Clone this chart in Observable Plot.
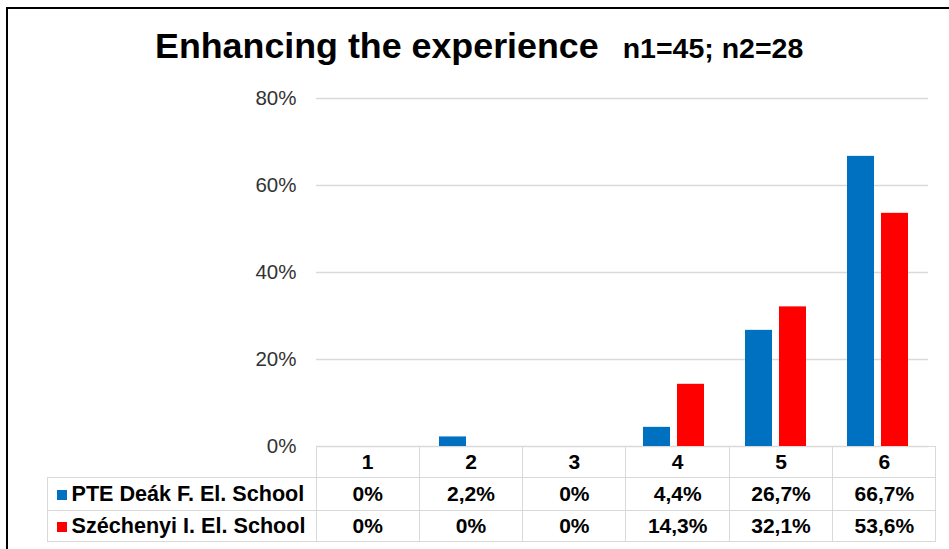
<!DOCTYPE html>
<html>
<head>
<meta charset="utf-8">
<script src="https://cdn.jsdelivr.net/npm/d3@7"></script>
<script src="https://cdn.jsdelivr.net/npm/@observablehq/plot@0.6"></script>
<style>
  html, body { margin: 0; padding: 0; background: #fff; overflow: hidden; }
  body { width: 949px; height: 549px; position: relative; font-family: "Liberation Sans", Arial, sans-serif; }
  #frame { position: absolute; left: 6px; top: 7px; width: 960px; height: 560px; border: 2px solid #000; box-sizing: border-box; }
  #title { position: absolute; left: 155px; top: 24px; white-space: nowrap; font-weight: bold; color: #000; line-height: 44px; }
  #title .main { font-size: 35.8px; }
  #title .sub { font-size: 28.5px; margin-left: 24px; }
  #chart { position: absolute; left: 0; top: 80px; }
  #table { position: absolute; left: 47px; top: 446px; border-collapse: collapse; table-layout: fixed; font-weight: bold; font-size: 21px; color: #000; }
  #table td { border: 1px solid #d9d9d9; text-align: center; vertical-align: middle; padding: 0; white-space: nowrap; }
  #table td.lab { text-align: left; padding-left: 9px; font-size: 21.6px; }
  #table tr.head td.blank { border: none; }
  .key { display: inline-block; width: 9.5px; height: 9.5px; margin-right: 5px; vertical-align: 1px; }
</style>
</head>
<body>
<div id="frame"></div>
<div id="title"><span class="main">Enhancing the experience</span><span class="sub">n1=45; n2=28</span></div>
<div id="chart"></div>
<table id="table"></table>
<script>
const categories = ["1", "2", "3", "4", "5", "6"];
const schools = ["PTE Deák F. El. School", "Széchenyi I. El. School"];
const deakValues = [0, 0.022, 0, 0.044, 0.267, 0.667];
const szechenyiValues = [0, 0, 0, 0.143, 0.321, 0.536];
const deakLabels = ["0%", "2,2%", "0%", "4,4%", "26,7%", "66,7%"];
const szechenyiLabels = ["0%", "0%", "0%", "14,3%", "32,1%", "53,6%"];
const yTicks = [0, 0.2, 0.4, 0.6, 0.8];
const schoolColors = ["#0070C0", "#FF0000"];

const data = [];
categories.forEach((c, i) => {
  data.push({category: c, school: schools[0], value: deakValues[i]});
  data.push({category: c, school: schools[1], value: szechenyiValues[i]});
});

const chart = Plot.plot({
  width: 949,
  height: 380,
  marginLeft: 315,
  marginRight: 20,
  marginTop: 18,
  marginBottom: 14,
  style: {fontFamily: "'Liberation Sans', Arial, sans-serif", fontSize: "20.5px", color: "#333", background: "transparent"},
  fx: {domain: categories, padding: 0, axis: null},
  x: {domain: schools, paddingInner: 0.22, paddingOuter: 0.59, axis: null},
  y: {domain: [0, 0.8], ticks: yTicks, tickFormat: d => Math.round(d * 100) + "%", tickSize: 0, tickPadding: 20, label: null},
  color: {domain: schools, range: schoolColors},
  marks: [
    Plot.ruleY(yTicks, {stroke: "#d9d9d9", strokeOpacity: 1, strokeWidth: 1.3}),
    Plot.barY(data, {fx: "category", x: "school", y: "value", fill: "school"})
  ]
});
document.getElementById("chart").appendChild(chart);

// data table
const table = document.getElementById("table");
const colW = (949 - 315 - 20) / categories.length;
const head = document.createElement("tr");
head.className = "head";
head.style.height = "31px";
const blank = document.createElement("td");
blank.className = "blank";
blank.style.width = (315 - 47) + "px";
head.appendChild(blank);
categories.forEach(c => {
  const td = document.createElement("td");
  td.style.width = colW + "px";
  td.textContent = c;
  head.appendChild(td);
});
table.appendChild(head);
[[deakLabels, 0], [szechenyiLabels, 1]].forEach(([labels, k]) => {
  const tr = document.createElement("tr");
  tr.style.height = k === 0 ? "32.5px" : "31.7px";
  const lab = document.createElement("td");
  lab.className = "lab";
  const key = document.createElement("span");
  key.className = "key";
  key.style.background = schoolColors[k];
  lab.appendChild(key);
  lab.appendChild(document.createTextNode(schools[k]));
  tr.appendChild(lab);
  labels.forEach(l => {
    const td = document.createElement("td");
    td.textContent = l;
    tr.appendChild(td);
  });
  table.appendChild(tr);
});
</script>
</body>
</html>
